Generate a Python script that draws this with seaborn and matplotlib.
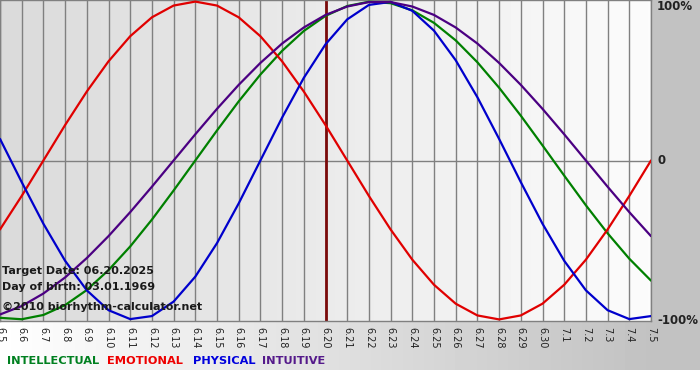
import numpy as np
import pandas as pd
import seaborn as sns
import matplotlib.pyplot as plt

# days shown on the x axis (month.day)
day_labels = ["6.5", "6.6", "6.7", "6.8", "6.9", "6.10", "6.11", "6.12", "6.13", "6.14",
              "6.15", "6.16", "6.17", "6.18", "6.19", "6.20", "6.21", "6.22", "6.23", "6.24",
              "6.25", "6.26", "6.27", "6.28", "6.29", "6.30", "7.1", "7.2", "7.3", "7.4", "7.5"]
target_day = "6.20"

# cycle values (-1 .. 1), one per day
intellectual = [-0.990, -0.999, -0.972, -0.910, -0.815, -0.690, -0.541, -0.372, -0.189, 0.0,
                0.189, 0.372, 0.541, 0.690, 0.815, 0.910, 0.972, 0.999, 0.990, 0.945,
                0.866, 0.756, 0.618, 0.458, 0.282, 0.095, -0.095, -0.282, -0.458, -0.618, -0.756]
emotional = [-0.434, -0.223, 0.0, 0.223, 0.434, 0.624, 0.782, 0.901, 0.975, 1.0,
             0.975, 0.901, 0.782, 0.624, 0.434, 0.223, 0.0, -0.223, -0.434, -0.624,
             -0.782, -0.901, -0.975, -1.0, -0.975, -0.901, -0.782, -0.624, -0.434, -0.223, 0.0]
physical = [0.136, -0.136, -0.398, -0.631, -0.817, -0.942, -0.998, -0.979, -0.888, -0.731,
            -0.520, -0.270, 0.0, 0.270, 0.520, 0.731, 0.888, 0.979, 0.998, 0.942,
            0.817, 0.631, 0.398, 0.136, -0.136, -0.398, -0.631, -0.817, -0.942, -0.998, -0.979]
intuitive = [-0.969, -0.916, -0.837, -0.736, -0.614, -0.476, -0.325, -0.165, 0.0, 0.165,
             0.325, 0.476, 0.614, 0.736, 0.837, 0.916, 0.969, 0.997, 0.997, 0.969,
             0.916, 0.837, 0.736, 0.614, 0.476, 0.325, 0.165, 0.0, -0.165, -0.325, -0.476]

series_names = ["INTELLECTUAL", "EMOTIONAL", "PHYSICAL", "INTUITIVE"]
line_colors = {"INTELLECTUAL": "#008000", "EMOTIONAL": "#e00000",
               "PHYSICAL": "#0000cc", "INTUITIVE": "#4b0082"}
legend_colors = {"INTELLECTUAL": "#008020", "EMOTIONAL": "#ee0000",
                 "PHYSICAL": "#0000dd", "INTUITIVE": "#551a8b"}

rows = []
for name, vals in zip(series_names, [intellectual, emotional, physical, intuitive]):
    for i, v in enumerate(vals):
        rows.append({"pos": i, "day": day_labels[i], "value": v, "series": name})
df = pd.DataFrame(rows)

sns.set_theme(style="white")
plt.rcParams['font.family'] = ['DejaVu Sans']

W, H = 700, 380
fig = plt.figure(figsize=(W / 100, H / 100), dpi=100)

# page background: grey band that fades from white (left) to grey (right)
bg = fig.add_axes([0, 0, 1, 1])
bg.axis("off")
img = np.ones((H, W))
plot_right = 651
ramp = np.linspace(1.0, 0.76, plot_right)
img[:370, :plot_right] = ramp
img[:370, plot_right:] = 0.76
bg.imshow(img, cmap="gray", vmin=0, vmax=1, aspect="auto", extent=(0, W, H, 0))
bg.set_xlim(0, W)
bg.set_ylim(H, 0)

plot_bottom = 321
ax = fig.add_axes([0, 1 - plot_bottom / H, plot_right / W, plot_bottom / H])
n = len(day_labels) - 1
ax.imshow(np.linspace(0.855, 0.985, 200).reshape(1, -1), cmap="gray", vmin=0, vmax=1,
          aspect="auto", extent=(0, n, -1.01, 1.01), zorder=0)

for i in range(len(day_labels)):
    ax.axvline(i, color="#808080", lw=1, zorder=1)
ax.axhline(0, color="#808080", lw=1, zorder=1)
ax.axvline(day_labels.index(target_day), color="#7a0a0a", lw=2, zorder=2)

sns.lineplot(data=df, x="pos", y="value", hue="series", hue_order=series_names,
             palette=line_colors, linewidth=1.6, legend=False, ax=ax, zorder=3)
for ln in ax.get_lines():
    ln.set_solid_joinstyle("round")

ax.set_xlim(0, n)
ax.set_ylim(-1.01, 1.01)
ax.set_xticks(range(len(day_labels)))
ax.set_xticklabels(day_labels, rotation=-90, fontsize=7, color="#222222", va="top", ha="center")
ax.tick_params(axis="x", length=0, pad=4)
ax.set_yticks([])
ax.set_xlabel("")
ax.set_ylabel("")
for side, sp in ax.spines.items():
    sp.set_color("#808080")
    sp.set_linewidth(1)

# labels on the right
txt_kw = dict(fontsize=8.5, fontweight="bold", color="#222222", va="center")
fig.text(657 / W, 1 - 7 / H, "100%", **txt_kw)
fig.text(657 / W, 1 - 161 / H, "0", **txt_kw)
fig.text(657 / W, 1 - 321 / H, "-100%", **txt_kw)

# info text inside the plot
info_kw = dict(fontsize=8, fontweight="bold", color="#1a1a1a", va="center")
fig.text(2 / W, 1 - 271 / H, "Target Date: 06.20.2025", **info_kw)
fig.text(2 / W, 1 - 287 / H, "Day of birth: 03.01.1969", **info_kw)
fig.text(2 / W, 1 - 307 / H, "\u00a92010 biorhythm-calculator.net", **info_kw)

# legend words
legend_x = [7, 107, 193, 262]
for name, x in zip(series_names, legend_x):
    fig.text(x / W, 1 - 361 / H, name, fontsize=8.2, fontweight="bold",
             color=legend_colors[name], va="center")

fig.savefig("out.png", dpi=100)
